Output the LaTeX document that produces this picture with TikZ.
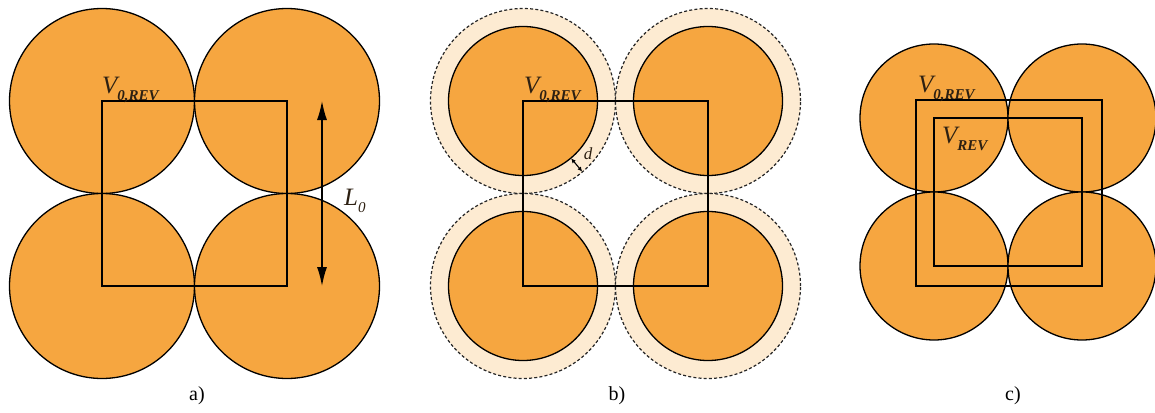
\documentclass[tikz,border=0pt]{standalone}
\usepackage{fontspec}
\setmainfont{Liberation Serif}
\usetikzlibrary{arrows.meta,calc}
\definecolor{ballc}{RGB}{246,166,64}
\definecolor{shellc}{RGB}{253,235,210}
\definecolor{txtc}{RGB}{45,32,18}
\newcommand{\sub}[1]{\raisebox{-0.3em}{\fontsize{15}{15}\selectfont\bfseries\itshape #1}}
\begin{document}
\begin{tikzpicture}[x=1pt,y=-1pt,
  ball/.style={circle,draw=black,line width=1.3pt,fill=ballc,minimum size=#1,inner sep=0pt,outer sep=0pt},
  shell/.style={circle,draw=black!85,line width=1.2pt,dash pattern=on 3pt off 2.2pt,fill=shellc,minimum size=#1,inner sep=0pt,outer sep=0pt},
  cell/.style={draw=black,line width=1.4pt},
  lab/.style={font=\fontsize{25}{25}\selectfont\itshape,text=txtc,inner sep=0pt},
  caplab/.style={font=\fontsize{20}{20}\selectfont,inner sep=0pt},
  dim/.style={line width=1.3pt,{Latex[length=19pt,width=10pt]}-{Latex[length=19pt,width=10pt]}},
]
\useasboundingbox (0,0) rectangle (1155,412);
% ---------- a)
\node[ball=185pt] (a1) at (102,101) {};
\node[ball=185pt] (a2) at (287,101) {};
\node[ball=185pt] (a3) at (102,286) {};
\node[ball=185pt] (a4) at (287,286) {};
\draw[cell] (a1.center) rectangle (a4.center);
\node[lab,anchor=base west] (av) at (102,93) {V\sub{0,REV}};
\coordinate (atop) at (322,101);
\coordinate (abot) at (322,286);
\draw[dim] (atop) -- (abot);
\node[lab,anchor=base west] (al) at (344,205) {L\sub{\mdseries 0}};
\node[caplab] (acap) at (197,396) {a)};
% ---------- b)
\node[shell=185pt] (bs1) at (523,101) {};
\node[shell=185pt] (bs2) at (708,101) {};
\node[shell=185pt] (bs3) at (523,286) {};
\node[shell=185pt] (bs4) at (708,286) {};
\node[ball=149pt] (b1) at (523,101) {};
\node[ball=149pt] (b2) at (708,101) {};
\node[ball=149pt] (b3) at (523,286) {};
\node[ball=149pt] (b4) at (708,286) {};
\draw[cell] (b1.center) rectangle (b4.center);
\node[lab,anchor=base west] (bv) at (524,93) {V\sub{0,REV}};
\coordinate (din) at ($(b1.center)+(50:75)$);
\coordinate (dout) at ($(b1.center)+(50:92)$);
\draw[line width=1.1pt,{Latex[length=4.5pt,width=4.5pt]}-{Latex[length=4.5pt,width=4.5pt]}] (din) -- (dout);
\node[font=\fontsize{17}{17}\selectfont\itshape,text=txtc,inner sep=0pt] (bd) at (588,154) {d};
\node[caplab] (bcap) at (617,396) {b)};
% ---------- c)
\node[ball=148pt] (c1) at (934,118) {};
\node[ball=148pt] (c2) at (1082,118) {};
\node[ball=148pt] (c3) at (934,266) {};
\node[ball=148pt] (c4) at (1082,266) {};
\coordinate (co1) at (916,100);
\coordinate (co2) at (1102,286);
\draw[cell] (co1) rectangle (co2);
\draw[cell] (c1.center) rectangle (c4.center);
\node[lab,anchor=base west] (cv) at (918,92) {V\sub{0,REV}};
\node[lab,anchor=base west] (cr) at (942,143) {V\sub{REV}};
\node[caplab] (ccap) at (1013,396) {c)};
\end{tikzpicture}
\end{document}
